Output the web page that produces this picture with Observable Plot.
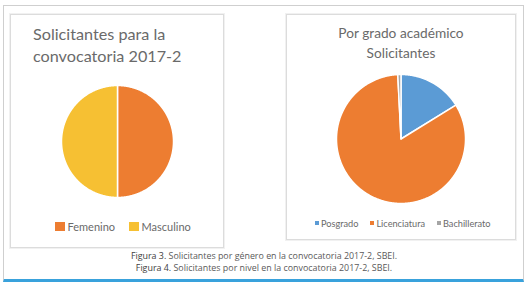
<!DOCTYPE html>
<html><head><meta charset="utf-8">
<script src="https://cdn.jsdelivr.net/npm/d3@7"></script>
<script src="https://cdn.jsdelivr.net/npm/@observablehq/plot@0.6"></script>
<style>
html,body{margin:0;padding:0;background:#fff;}
#root{position:relative;width:530px;height:286px;overflow:hidden;font-family:Lato,sans-serif;color:#666;}
#root div{position:absolute;box-sizing:border-box;}
.row{display:flex;align-items:center;white-space:nowrap;}
.row span{display:inline-block;}
</style></head><body><div id="root"></div>
<script>
// ---- data ----
const genderCategories = ["Femenino", "Masculino"];
const genderValues = [50, 50];
const genderColors = ["#ED7D31", "#F6C033"];
const levelCategories = ["Posgrado", "Licenciatura", "Bachillerato"];
const levelValues = [16.2, 83.0, 0.8];
const levelColors = ["#5B9BD5", "#ED7D31", "#A5A5A5"];
const titleGender = ["Solicitantes para la", "convocatoria 2017-2"];
const titleLevel = ["Por grado académico", "Solicitantes"];
const captionLabels = ["Figura 3.", "Figura 4."];
const captionTexts = [
  "Solicitantes por género en la convocatoria 2017-2, SBEI.",
  "Solicitantes por nivel en la convocatoria 2017-2, SBEI."
];

// ---- helpers ----
const root = document.getElementById("root");
function el(parent, style, html) {
  const d = document.createElement("div");
  d.style.cssText = style;
  if (html != null) d.innerHTML = html;
  parent.appendChild(d);
  return d;
}
function slicePoints(cats, vals) {
  const arcs = d3.pie().sort(null).value(d => d)(vals);
  const pts = [];
  arcs.forEach((a, i) => {
    const n = Math.max(2, Math.ceil((a.endAngle - a.startAngle) / (Math.PI / 360)));
    pts.push({cat: cats[i], x: 0, y: 0});
    for (let k = 0; k <= n; k++) {
      const t = a.startAngle + (a.endAngle - a.startAngle) * k / n;
      pts.push({cat: cats[i], x: Math.sin(t), y: Math.cos(t)});
    }
  });
  return pts;
}
function pie(cats, vals, colors, r, sw) {
  const m = 2, size = 2 * r + 2 * m;
  return Plot.plot({
    width: size, height: size, margin: m,
    x: {domain: [-1, 1], axis: null},
    y: {domain: [-1, 1], axis: null},
    color: {domain: cats, range: colors},
    marks: [
      Plot.line(slicePoints(cats, vals), {
        x: "x", y: "y", z: "cat", fill: "cat",
        stroke: "white", strokeWidth: sw, strokeLinejoin: "round", curve: "linear-closed"
      })
    ]
  });
}
function legend(parent, style, cats, colors, sq, gap, fs) {
  const row = el(parent, style);
  row.className = "row";
  cats.forEach((c, i) => {
    const s = document.createElement("span");
    s.style.cssText = `width:${sq}px;height:${sq}px;background:${colors[i]};margin-right:${sq > 6 ? 3 : 2}px;`;
    const t = document.createElement("span");
    t.style.cssText = `font-size:${fs}px;color:#6a6a6a;margin-right:${i < cats.length - 1 ? gap : 0}px;`;
    t.textContent = c;
    row.appendChild(s); row.appendChild(t);
  });
}

// ---- frame ----
el(root, "left:3px;top:5px;width:521px;height:277px;border:1px solid #cfcfcf;border-bottom:3px solid #39a2dc;");

// ---- left panel ----
el(root, "left:10px;top:14px;width:214px;height:234px;border:1px solid #dcdcdc;box-shadow:0 0 0 1px #f1f1f1;background:#fff;");
el(root, "left:33px;top:23px;font-size:16.2px;line-height:22px;color:#6a6a6a;white-space:nowrap;", titleGender.join("<br>"));
const pie1 = el(root, "left:59px;top:82.5px;");
pie1.appendChild(pie(genderCategories, genderValues, genderColors, 56, 1.5));
legend(root, "left:55px;top:220px;height:13px;", genderCategories, genderColors, 9.5, 14, 11);

// ---- right panel ----
el(root, "left:286px;top:14px;width:230px;height:226px;border:1px solid #dcdcdc;box-shadow:0 0 0 1px #f1f1f1;background:#fff;");
el(root, "left:301px;top:23px;width:200px;text-align:center;font-size:13.7px;line-height:20px;color:#6a6a6a;white-space:nowrap;", titleLevel.join("<br>"));
const pie2 = el(root, "left:334px;top:71.5px;");
pie2.appendChild(pie(levelCategories, levelValues, levelColors, 64.5, 1.5));
legend(root, "left:315px;top:217px;height:12px;", levelCategories, levelColors, 4, 12, 9.2);

// ---- caption ----
el(root, "left:64px;top:250px;width:400px;text-align:center;font-family:'Open Sans',sans-serif;font-size:8.9px;line-height:12px;color:#5a5a5a;white-space:nowrap;",
  captionLabels.map((l, i) => `<span style="color:#404040">${l}</span> ${captionTexts[i]}`).join("<br>"));
</script></body></html>
